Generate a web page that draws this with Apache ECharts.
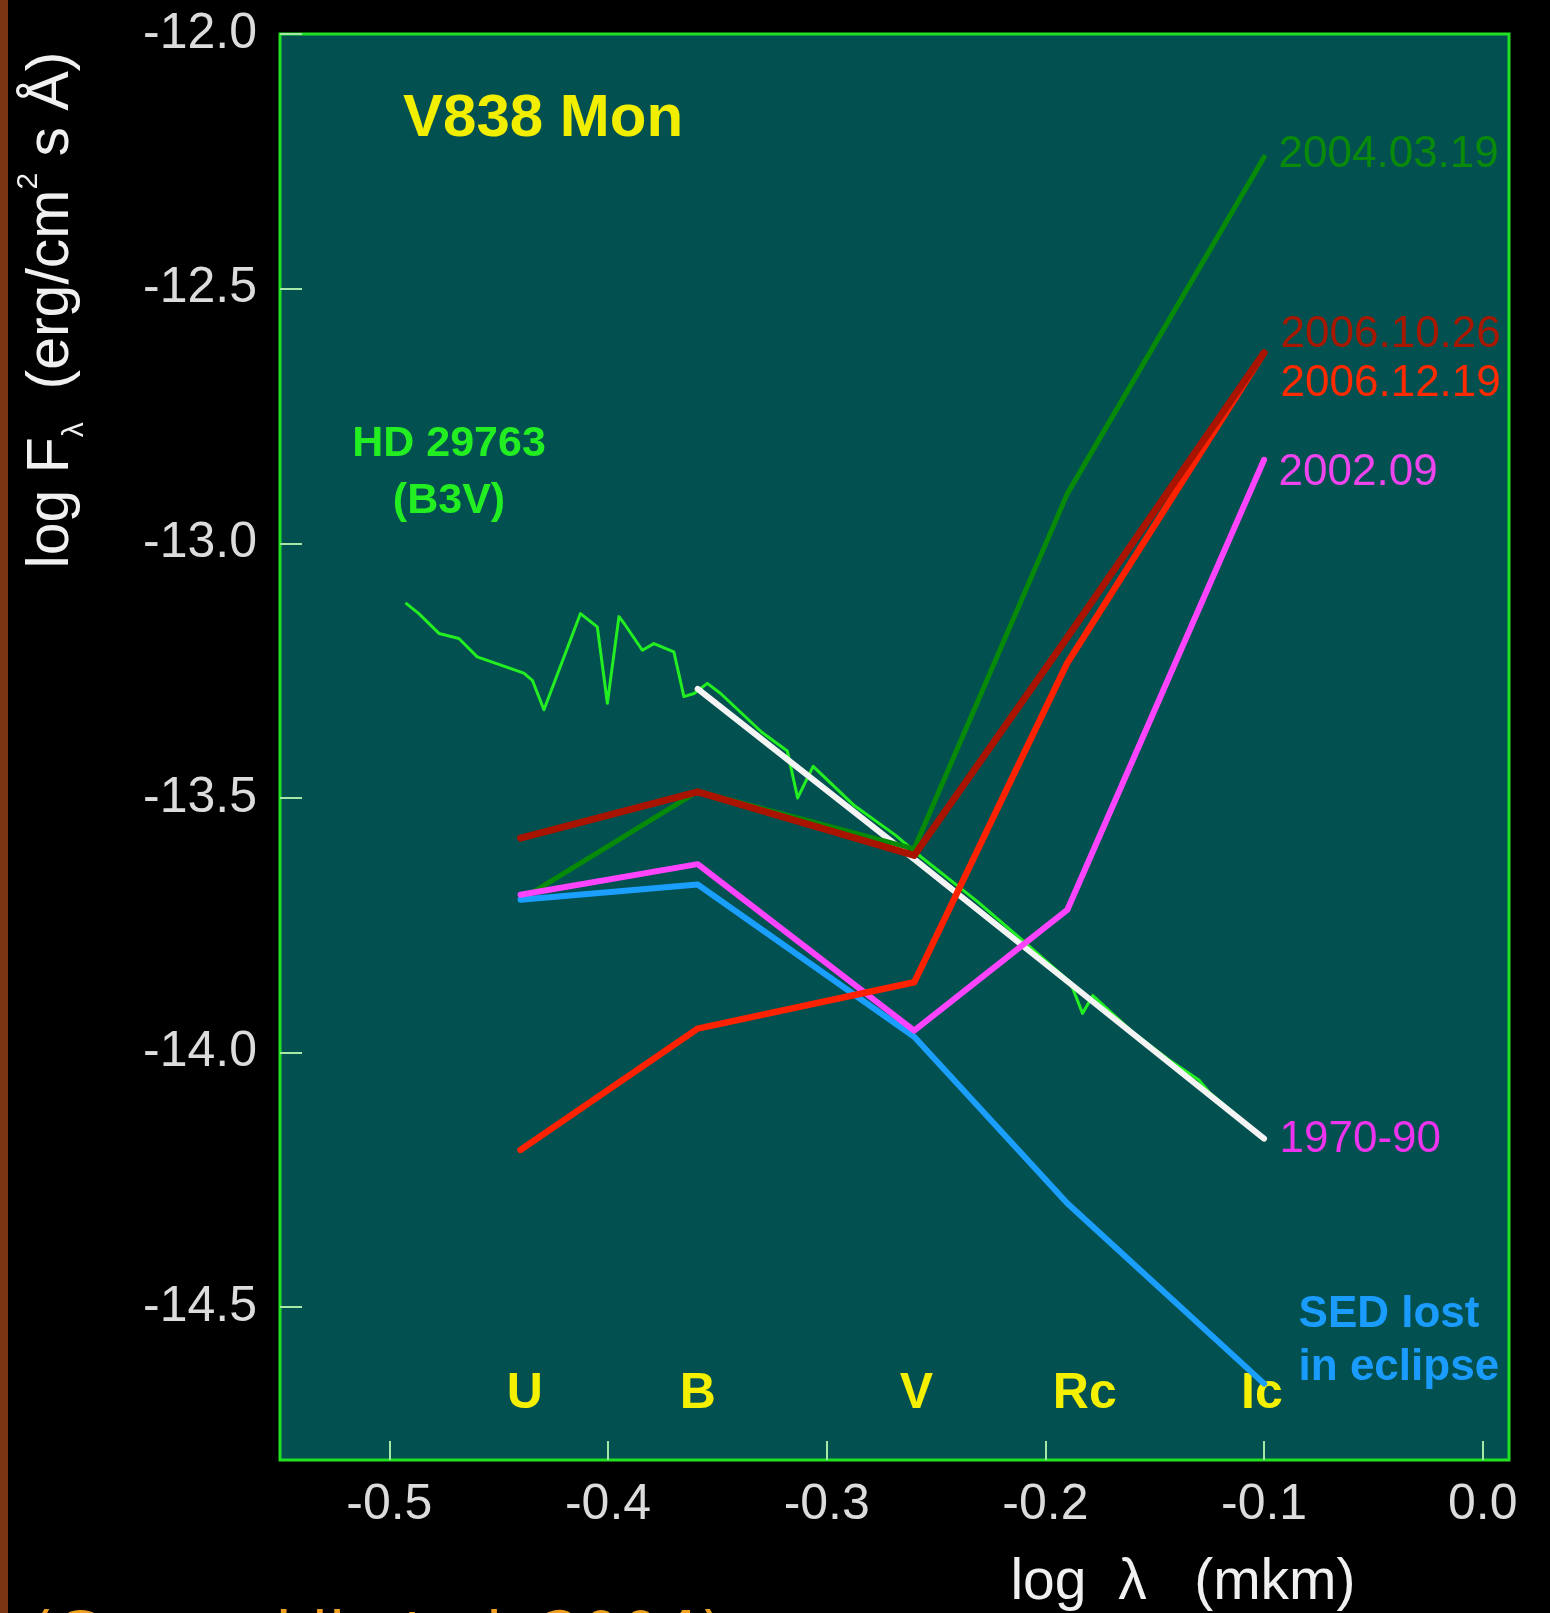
<!DOCTYPE html>
<html>
<head>
<meta charset="utf-8">
<title>V838 Mon SED</title>
<script src="https://cdn.jsdelivr.net/npm/echarts@6/dist/echarts.min.js"></script>
<style>
	html, body { margin: 0; padding: 0; background: #000; }
	#chart { width: 1550px; height: 1613px; }
</style>
</head>
<body>
<div id="chart"></div>
<script>
// photometric bands, log lambda (mkm)
var bands = ['U', 'B', 'V', 'Rc', 'Ic'];
var bandX = [-0.44, -0.359, -0.26, -0.19, -0.1];
var bandLabelX = [-0.438, -0.359, -0.259, -0.182, -0.101];
var bandLabelY = -14.671;

// log F at U, B, V, Rc, Ic
var sed20040319 = [-13.70, -13.487, -13.60, -12.903, -12.242];
var sed20061026 = [-13.579, -13.488, -13.613, -13.185, -12.626];
var sed20061219 = [-14.191, -13.953, -13.862, -13.235, -12.626];
var sed200209 = [-13.69, -13.63, -13.957, -13.72, -12.836];
var sedEclipse = [-13.70, -13.67, -13.969, -14.296, -14.65];
var sed197090 = [null, -13.286, -13.62, -13.86, -14.169]; // no U

// HD 29763 (B3V) spectrum
var hdX = [-0.4926, -0.4865, -0.4773, -0.4682, -0.4598, -0.4385, -0.4346, -0.4293, -0.4126, -0.4049,
	-0.4003, -0.3950, -0.3927, -0.3843, -0.3790, -0.3699, -0.3653, -0.3607, -0.3546, -0.3485,
	-0.3297, -0.3180, -0.3133, -0.3062, -0.2874, -0.2686, -0.2568, -0.2309, -0.2074, -0.1886,
	-0.1830, -0.1783, -0.1604, -0.1439, -0.1298, -0.1251, -0.0997];
var hdY = [-13.117, -13.138, -13.177, -13.187, -13.223, -13.255, -13.269, -13.327, -13.138, -13.164,
	-13.314, -13.144, -13.157, -13.210, -13.197, -13.213, -13.301, -13.295, -13.275, -13.295,
	-13.371, -13.408, -13.500, -13.438, -13.515, -13.573, -13.616, -13.704, -13.791, -13.862,
	-13.923, -13.888, -13.959, -14.013, -14.054, -14.078, -14.169];

// axis ticks
var xTicks = [-0.5, -0.4, -0.3, -0.2, -0.1, 0.0];
var yTicks = [-14.5, -14.0, -13.5, -13.0, -12.5, -12.0];

var FONT = 'Liberation Sans';

function pairs(xs, ys) {
	var out = [];
	for (var i = 0; i < xs.length; i++) {
		if (ys[i] !== null) out.push([xs[i], ys[i]]);
	}
	return out;
}

// label at the last point of a curve
function endTag(text, pts, color, dx, dy, bold) {
	var last = pts[pts.length - 1];
	return {
		silent: true,
		symbol: 'circle',
		symbolSize: 1,
		itemStyle: { color: 'rgba(0,0,0,0)' },
		label: {
			show: true,
			position: 'right',
			distance: 0,
			offset: [dx, dy],
			formatter: text,
			color: color,
			fontFamily: FONT,
			fontSize: 44,
			fontWeight: bold ? 'bold' : 'normal',
			lineHeight: 53
		},
		data: [{ coord: [last[0], last[1]] }]
	};
}

function sedLine(name, ys, color, width, tag) {
	var pts = pairs(bandX, ys);
	return {
		name: name,
		type: 'line',
		data: pts,
		symbol: 'none',
		silent: true,
		lineStyle: { color: color, width: width, join: 'round', cap: 'round' },
		markPoint: tag ? endTag(tag.text, pts, tag.color, tag.dx, tag.dy, tag.bold) : undefined
	};
}

var chart = echarts.init(document.getElementById('chart'));

var bandData = [];
for (var i = 0; i < bands.length; i++) {
	bandData.push({ name: bands[i], value: [bandLabelX[i], bandLabelY] });
}

var option = {
	animation: false,
	backgroundColor: '#000000',
	title: {
		text: 'V838 Mon',
		left: 403,
		top: 89,
		padding: 0,
		textStyle: { color: '#f2ee00', fontSize: 60, fontWeight: 'bold', fontFamily: FONT }
	},
	grid: {
		left: 280,
		top: 34,
		right: 41,
		bottom: 153,
		show: true,
		backgroundColor: '#02504f',
		borderColor: '#22e022',
		borderWidth: 3
	},
	xAxis: {
		type: 'value',
		min: -0.55,
		max: 0.012,
		axisLine: { show: false, onZero: false },
		splitLine: { show: false },
		axisTick: {
			show: true,
			inside: true,
			length: 19,
			customValues: xTicks,
			lineStyle: { color: '#a6e8a6', width: 2 }
		},
		axisLabel: {
			customValues: xTicks,
			margin: 20,
			color: '#dcdcdc',
			fontSize: 50,
			fontFamily: FONT,
			formatter: function(v) { return v.toFixed(1); }
		}
	},
	yAxis: {
		type: 'value',
		min: -14.8,
		max: -12.0,
		axisLine: { show: false, onZero: false },
		splitLine: { show: false },
		axisTick: {
			show: true,
			inside: true,
			length: 22,
			customValues: yTicks,
			lineStyle: { color: '#a6e8a6', width: 2 }
		},
		axisLabel: {
			customValues: yTicks,
			margin: 23,
			color: '#dcdcdc',
			fontSize: 50,
			fontFamily: FONT,
			formatter: function(v) { return v.toFixed(1); }
		}
	},
	graphic: [
		{
			type: 'rect',
			left: 0,
			top: 0,
			shape: { width: 8, height: 1613 },
			style: { fill: '#7b3412' }
		},
		{
			type: 'text',
			x: 52,
			y: 310,
			rotation: Math.PI / 2,
			style: {
				text: '{n|log F}{sub|λ}{n|  (erg/cm}{sup|2}{n| s Å)}',
				align: 'center',
				verticalAlign: 'middle',
				rich: {
					n: { fill: '#f0f0f0', fontSize: 59, fontFamily: FONT, lineHeight: 76, verticalAlign: 'middle' },
					sub: { fill: '#f0f0f0', fontSize: 30, fontFamily: FONT, lineHeight: 20, verticalAlign: 'bottom' },
					sup: { fill: '#f0f0f0', fontSize: 30, fontFamily: FONT, lineHeight: 30, verticalAlign: 'top' }
				}
			}
		},
		{
			type: 'text',
			x: 1183,
			y: 1583,
			style: {
				text: 'log  λ   (mkm)',
				fill: '#f0f0f0',
				font: '57px "Liberation Sans"',
				align: 'center',
				verticalAlign: 'middle'
			}
		},
		{
			type: 'text',
			x: 449,
			y: 473,
			style: {
				text: 'HD 29763\n(B3V)',
				fill: '#22ee22',
				font: 'bold 43px "Liberation Sans"',
				lineHeight: 57,
				align: 'center',
				verticalAlign: 'middle'
			}
		},
		{
			type: 'text',
			x: 30,
			y: 1640,
			style: {
				text: '(Goranskij et al. 2004)',
				fill: '#f0a020',
				font: '62px "DejaVu Sans"',
				align: 'left',
				verticalAlign: 'middle'
			}
		}
	],
	series: [
		{
			name: 'HD 29763',
			type: 'line',
			data: pairs(hdX, hdY),
			symbol: 'none',
			silent: true,
			lineStyle: { color: '#22ee22', width: 3, join: 'round' }
		},
		sedLine('1970-90', sed197090, '#f4f4f4', 6,
			{ text: '1970-90', color: '#ee33ee', dx: 15, dy: 1, bold: false }),
		sedLine('2004.03.19', sed20040319, '#078a07', 5,
			{ text: '2004.03.19', color: '#0a8a0a', dx: 14, dy: -2, bold: false }),
		sedLine('SED lost in eclipse', sedEclipse, '#1a9fff', 6,
			{ text: 'SED lost\nin eclipse', color: '#1a9cff', dx: 34, dy: -42, bold: true }),
		sedLine('2002.09', sed200209, '#ff44ff', 6,
			{ text: '2002.09', color: '#ee44ee', dx: 14, dy: 13, bold: false }),
		sedLine('2006.12.19', sed20061219, '#ff2200', 6.5,
			{ text: '2006.12.19', color: '#ff2a00', dx: 16, dy: 31, bold: false }),
		sedLine('2006.10.26', sed20061026, '#a81400', 7,
			{ text: '2006.10.26', color: '#a81800', dx: 16, dy: -18, bold: false }),
		{
			name: 'bands',
			type: 'scatter',
			data: bandData,
			symbolSize: 0,
			silent: true,
			itemStyle: { opacity: 1 },
			label: {
				show: true,
				position: 'inside',
				formatter: '{b}',
				color: '#f4f000',
				opacity: 1,
				fontSize: 50,
				fontWeight: 'bold',
				fontFamily: FONT
			}
		}
	]
};

chart.setOption(option);
</script>
</body>
</html>
